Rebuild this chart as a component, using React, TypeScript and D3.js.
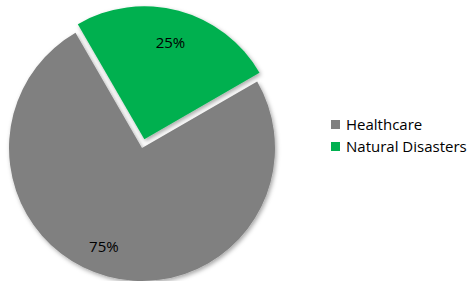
import React from 'react';
import * as d3 from 'd3';

const categories = ['Healthcare', 'Natural Disasters'];
const shares = [75, 25];
const labels = ['75%', '25%'];
const colors = ['#808080', '#00B050'];

const App = () => {
  const width = 474;
  const height = 281;
  const cx = 142;
  const cy = 148;
  const radius = 133;
  const explode = 9;

  const pie = d3
    .pie<number>()
    .sort(null)
    .startAngle(Math.PI / 3)
    .endAngle(Math.PI / 3 + 2 * Math.PI);
  const arcs = pie(shares);

  const arc = d3.arc<d3.PieArcDatum<number>>().innerRadius(0).outerRadius(radius);
  const labelArc = d3
    .arc<d3.PieArcDatum<number>>()
    .innerRadius(101)
    .outerRadius(101);

  return (
    <svg
      width={width}
      height={height}
      style={{ position: 'absolute', left: 0, top: 0 }}
      fontFamily="'Open Sans', sans-serif"
    >
      <defs>
        <filter id="shadow" x="-20%" y="-20%" width="140%" height="140%">
          <feDropShadow dx="1.5" dy="2" stdDeviation="2" floodColor="#000" floodOpacity="0.35" />
        </filter>
      </defs>
      <g transform={`translate(${cx}, ${cy})`}>
        {arcs.map((d, i) => {
          const mid = (d.startAngle + d.endAngle) / 2;
          // only the small slice is pulled out
          const off = i === 1 ? explode : 0;
          const dx = off * Math.sin(mid);
          const dy = -off * Math.cos(mid);
          const [lx, ly] = labelArc.centroid(d);
          return (
            <g key={categories[i]} transform={`translate(${dx}, ${dy})`}>
              <path d={arc(d) || ''} fill={colors[i]} filter="url(#shadow)" />
              <text
                x={i === 0 ? lx - 12 : lx}
                y={ly}
                textAnchor="middle"
                dominantBaseline="central"
                fontSize={15}
                fill="#000"
              >
                {labels[i]}
              </text>
            </g>
          );
        })}
      </g>
      <g transform="translate(331, 120)">
        {categories.map((c, i) => (
          <g key={c} transform={`translate(0, ${i * 22})`}>
            <rect width={9} height={9} fill={colors[i]} />
            <text x={15} y={10} fontSize={15} fill="#000">
              {c}
            </text>
          </g>
        ))}
      </g>
    </svg>
  );
};

export default App;
